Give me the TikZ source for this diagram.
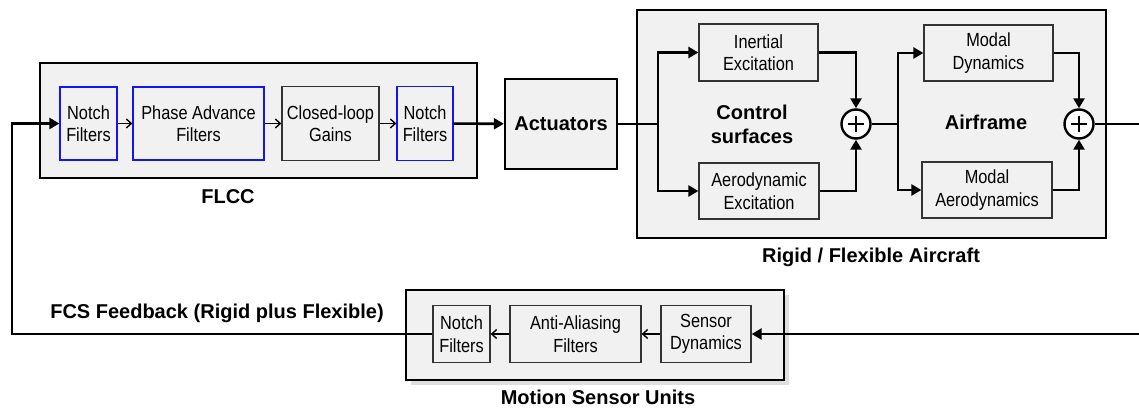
\documentclass[tikz,border=0pt]{standalone}
\usepackage{fontspec}
\setmainfont{Liberation Sans}
\newfontfamily\narrowfont{Liberation Sans}[FakeStretch=0.86]
\usepackage{tikz}
\usetikzlibrary{shapes,arrows,arrows.meta,positioning,calc,fit,backgrounds,shadows}
\usepackage{xcolor}
\definecolor{boxgray}{RGB}{241,241,241}
\definecolor{filterblue}{RGB}{20,20,245}

\begin{document}
\begin{tikzpicture}[x=1pt, y=-1pt,
    outer/.style={draw, line width=2.4pt, fill=boxgray},
    block/.style={draw=black!80, line width=1.3pt, fill=boxgray, align=center,
                  font=\narrowfont\fontsize{19}{22.5}\selectfont, inner sep=0pt},
    blueblock/.style={block, draw=filterblue},
    title/.style={font=\fontsize{20}{24}\selectfont\bfseries, align=center},
    sig/.style={line width=2.6pt, >={Triangle[length=10pt,width=11pt]}},
    thinsig/.style={line width=1.4pt, >={Straight Barb[length=5pt,width=9pt]}},
    sumnode/.style={circle, draw, line width=2.4pt, fill=white, minimum size=29pt, inner sep=0pt,
        path picture={\draw[line width=1.2pt]
            ([xshift=-8pt]path picture bounding box.center) -- ([xshift=8pt]path picture bounding box.center)
            ([yshift=-8pt]path picture bounding box.center) -- ([yshift=8pt]path picture bounding box.center);}}]
\useasboundingbox (0,0) rectangle (1139,409);

% Flight control computer
\node[outer, minimum width=437pt, minimum height=115pt] (flcc) at (258.5,120.5) {};
\node[blueblock, minimum width=57pt, minimum height=73pt] (notchA) at (88.5,123.5) {Notch\\Filters};
\node[blueblock, minimum width=131pt, minimum height=73pt] (phase) at (198.5,123.5) {Phase Advance\\Filters};
\node[block, minimum width=97pt, minimum height=74pt] (gains) at (330.5,123.5) {Closed-loop\\Gains};
\node[blueblock, minimum width=56pt, minimum height=74pt] (notchB) at (425,123.5) {Notch\\Filters};
\node[title] (flcclbl) at (228,197) {FLCC};

\node[outer, minimum width=112pt, minimum height=90pt, title] (act) at (561,124) {Actuators};

% Aircraft model
\node[outer, minimum width=469pt, minimum height=228pt] (plant) at (871.5,124) {};
\node[block, minimum width=119pt, minimum height=57pt] (inertial) at (758.5,52.5) {Inertial\\Excitation};
\node[block, minimum width=120pt, minimum height=56pt] (aero) at (759,191) {Aerodynamic\\Excitation};
\node[sumnode] (sumA) at (856,124) {};
\node[block, minimum width=129pt, minimum height=56pt] (modaldyn) at (988.5,53) {Modal\\Dynamics};
\node[block, minimum width=130pt, minimum height=56pt] (modalaero) at (987,190) {Modal\\Aerodynamics};
\node[sumnode] (sumB) at (1079,124) {};
\node[title] (surflbl) at (752,124) {Control\\surfaces};
\node[title] (framelbl) at (986,122) {Airframe};
\node[title] (plantlbl) at (871,257) {Rigid / Flexible Aircraft};

% Sensors
\node[outer, minimum width=378pt, minimum height=90pt,
      drop shadow={shadow xshift=5pt, shadow yshift=-5pt, opacity=0.25}] (msu) at (595,335) {};
\node[block, minimum width=57pt, minimum height=57pt] (notchC) at (461.5,334) {Notch\\Filters};
\node[block, minimum width=131pt, minimum height=57pt] (alias) at (575.5,334) {Anti-Aliasing\\Filters};
\node[block, minimum width=90pt, minimum height=57pt] (sensor) at (706,334) {Sensor\\Dynamics};
\node[title] (msulbl) at (598,397) {Motion Sensor Units};
\node[title] (fblbl) at (217,313) {FCS Feedback (Rigid plus Flexible)};

% Branch points and loop ends
\coordinate (splitA) at (658,124);
\coordinate (splitB) at (898,124);
\coordinate (outR) at (1139,124);
\coordinate (inR) at (1139,334);
\coordinate (fbx) at (12,0);

% Forward path
\draw[thinsig, ->] (notchA) -- (phase);
\draw[thinsig, ->] (phase) -- (gains);
\draw[thinsig, ->] (gains) -- (notchB);
\draw[sig, ->] (notchB) -- (act);
\draw[sig] (act.east) -- (splitA);
\draw[sig, ->] (splitA) |- (inertial.west);
\draw[sig, ->] (splitA) |- (aero.west);
\draw[sig, ->] (inertial.east) -| (sumA.north);
\draw[sig, ->] (aero.east) -| (sumA.south);
\draw[sig] (sumA.east) -- (splitB);
\draw[sig, ->] (splitB) |- (modaldyn.west);
\draw[sig, ->] (splitB) |- (modalaero.west);
\draw[sig, ->] (modaldyn.east) -| (sumB.north);
\draw[sig, ->] (modalaero.east) -| (sumB.south);
\draw[sig] (sumB.east) -- (outR);

% Feedback path
\draw[sig, ->] (inR) -- (sensor.east);
\draw[thinsig, ->] (sensor) -- (alias);
\draw[thinsig, ->] (alias) -- (notchC);
\draw[sig, ->] (notchC.west) -- (notchC.west -| fbx) |- (notchA.west);
\end{tikzpicture}
\end{document}
